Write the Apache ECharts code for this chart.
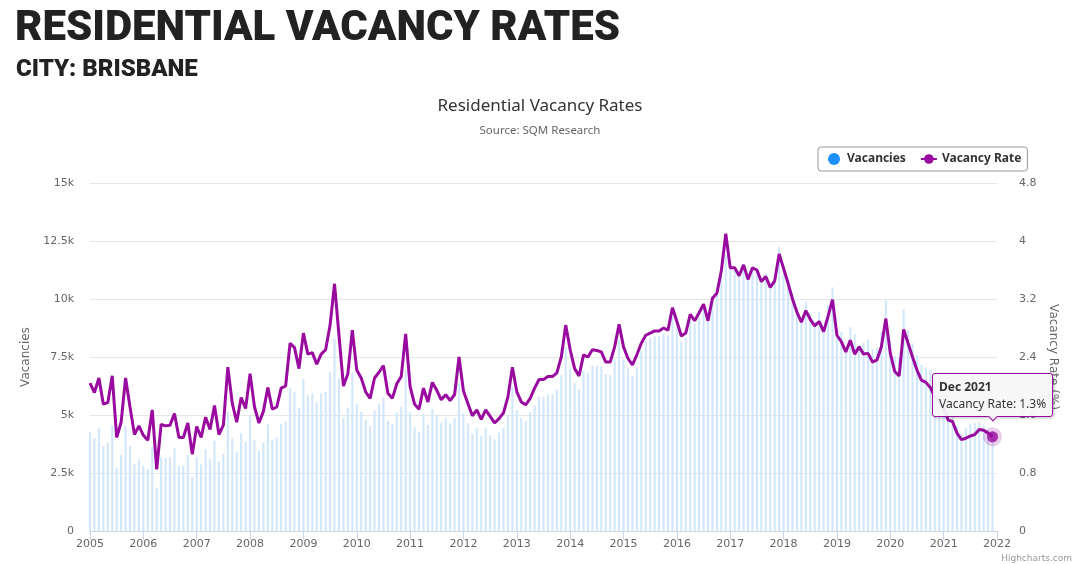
<!DOCTYPE html>
<html>
<head>
<meta charset="utf-8">
<script src="https://cdn.jsdelivr.net/npm/echarts@6/dist/echarts.min.js"></script>
<style>
html,body{margin:0;padding:0;background:#fff;}
#chart{width:1080px;height:564px;}
</style>
</head>
<body>
<div id="chart"></div>
<script>
// ---- Data (monthly, Jan 2005 - Dec 2021) ----
const startYear = 2005;
const monthNames = ['Jan','Feb','Mar','Apr','May','Jun','Jul','Aug','Sep','Oct','Nov','Dec'];
const xTickYears = [2005,2006,2007,2008,2009,2010,2011,2012,2013,2014,2015,2016,2017,2018,2019,2020,2021,2022];

const vacancies = [
  4280,4000,4430,3660,3810,4540,2700,3280,4530,3660,2870,3090,
  2810,2670,3610,1840,3180,3140,3180,3560,2810,2810,3280,2310,
  3180,2870,3520,3090,3880,2990,3320,5140,4000,3390,4210,3850,
  5000,3920,3450,3810,4610,3920,4040,4610,4710,6150,6000,5310,
  6550,5860,5930,5530,5930,6000,6840,8290,6580,4870,5320,6830,
  5460,5150,4780,4540,5200,5460,5750,4750,4600,5110,5360,6940,
  5110,4470,4250,5040,4570,5240,5000,4670,4860,4640,4860,6370,
  5070,4640,4180,4430,4100,4430,4140,3950,4240,4430,5000,6220,
  5210,4860,4740,5120,5410,5790,5790,5890,5890,6100,6720,7940,
  7050,6390,6100,6910,6800,7120,7120,7080,6770,6720,7410,8230,
  7430,7010,6680,7080,7760,8190,8330,8400,8400,8510,8440,9240,
  8750,8160,8330,9120,8940,9200,9700,9090,10030,10240,10960,11900,
  11390,11360,11030,11460,10890,11360,11280,10820,11100,10560,10820,12250,
  11460,10820,10240,9600,9120,9880,9410,9020,9440,8740,9740,10500,
  8590,8590,7870,8780,8490,8020,8120,8260,7830,7870,8590,9930,
  8230,7540,7480,9550,8660,8090,7590,7150,7050,6940,6650,6450,
  6080,5500,4930,4500,4210,4430,4610,4660,4700,4550,4350,4300
];

const vacancyRate = [
  2.04,1.91,2.11,1.75,1.77,2.14,1.29,1.50,2.11,1.71,1.33,1.45,
  1.32,1.25,1.67,0.85,1.47,1.45,1.46,1.62,1.29,1.29,1.49,1.06,
  1.44,1.29,1.57,1.40,1.73,1.33,1.46,2.26,1.76,1.50,1.84,1.69,
  2.17,1.71,1.49,1.65,1.98,1.68,1.71,1.97,2.00,2.59,2.53,2.24,
  2.73,2.44,2.46,2.30,2.44,2.50,2.84,3.41,2.70,2.00,2.17,2.77,
  2.22,2.11,1.92,1.83,2.11,2.19,2.28,1.90,1.83,2.03,2.13,2.72,
  1.99,1.75,1.68,1.97,1.78,2.05,1.94,1.81,1.88,1.80,1.88,2.40,
  1.93,1.76,1.59,1.67,1.54,1.67,1.58,1.49,1.55,1.63,1.85,2.26,
  1.92,1.78,1.74,1.83,1.97,2.09,2.09,2.13,2.13,2.18,2.40,2.84,
  2.50,2.24,2.14,2.43,2.40,2.50,2.49,2.47,2.33,2.33,2.54,2.85,
  2.54,2.38,2.29,2.43,2.59,2.70,2.73,2.76,2.76,2.80,2.77,3.08,
  2.89,2.69,2.73,2.99,2.90,3.01,3.13,2.90,3.21,3.28,3.59,4.10,
  3.63,3.63,3.52,3.67,3.47,3.63,3.60,3.44,3.51,3.36,3.45,3.82,
  3.62,3.42,3.20,3.02,2.88,3.04,2.92,2.83,2.89,2.75,2.96,3.19,
  2.70,2.61,2.47,2.63,2.44,2.54,2.44,2.45,2.33,2.36,2.54,2.93,
  2.45,2.20,2.14,2.78,2.59,2.40,2.22,2.08,2.05,1.98,1.85,1.78,
  1.69,1.53,1.51,1.35,1.26,1.28,1.31,1.33,1.40,1.39,1.35,1.3
];

const leftTicks = ['0','2.5k','5k','7.5k','10k','12.5k','15k'];
const rightTicks = ['0','0.8','1.6','2.4','3.2','4','4.8'];

// ---- Build ----
const monthLabels = vacancies.map((_, i) => monthNames[i % 12] + ' ' + (startYear + Math.floor(i / 12)));
const xPos = vacancies.map((_, i) => startYear + i / 12);
const barData = vacancies.map((v, i) => [xPos[i], v]);
const lineData = vacancyRate.map((v, i) => [xPos[i], v]);
const last = vacancyRate.length - 1;

const purple = '#990a9f';
const chart = echarts.init(document.getElementById('chart'), null, {renderer: 'canvas'});

chart.setOption({
  animation: false,
  backgroundColor: '#fff',
  title: [
    {text: 'RESIDENTIAL VACANCY RATES', left: 10, top: 3,
     textStyle: {fontFamily: 'Roboto', fontWeight: 900, fontSize: 42, color: '#222'}},
    {text: 'CITY: BRISBANE', left: 11, top: 53,
     textStyle: {fontFamily: 'Roboto', fontWeight: 900, fontSize: 24, color: '#222'}},
    {text: 'Residential Vacancy Rates', left: 'center', top: 93,
     textStyle: {fontFamily: 'Noto Sans', fontWeight: 'normal', fontSize: 17, color: '#333'}},
    {text: 'Source: SQM Research', left: 'center', top: 120,
     textStyle: {fontFamily: 'Noto Sans', fontWeight: 'normal', fontSize: 11.5, color: '#666'}}
  ],
  legend: {
    left: 818, top: 147,
    padding: [6, 6, 6, 10],
    itemGap: 14,
    itemWidth: 16, itemHeight: 12,
    borderColor: '#999', borderWidth: 1, borderRadius: 3,
    textStyle: {fontFamily: 'Noto Sans', fontWeight: 'bold', fontSize: 12, color: '#333'},
    data: [
      {name: 'Vacancies', icon: 'circle', itemStyle: {color: '#1e90ff', opacity: 1}},
      {name: 'Vacancy Rate'}
    ]
  },
  grid: {left: 90, right: 83, top: 183, bottom: 33, containLabel: false},
  tooltip: {
    trigger: 'item',
    triggerOn: 'none',
    alwaysShowContent: true,
    position: 'top',
    transitionDuration: 0,
    backgroundColor: 'rgba(247,247,247,0.95)',
    borderColor: purple,
    borderWidth: 1,
    padding: [4, 6],
    extraCssText: 'border-radius:3px;box-shadow:1px 1px 3px rgba(0,0,0,0.25);',
    textStyle: {fontFamily: 'Noto Sans', fontSize: 12, color: '#333'},
    formatter: function (p) {
      const i = last;
      return '<div style="line-height:17px"><b>' + monthLabels[i] + '</b><br/>Vacancy Rate: ' + vacancyRate[i] + '%</div>';
    }
  },
  xAxis: {
    type: 'value', min: 2005, max: 2022, interval: 1,
    axisLine: {show: true, lineStyle: {color: '#ccd6eb'}},
    axisTick: {show: true, length: 9, lineStyle: {color: '#ccd6eb'}},
    splitLine: {show: false},
    axisLabel: {color: '#666', fontSize: 11, fontFamily: 'DejaVu Sans', margin: 8,
      formatter: v => String(xTickYears[Math.round(v - 2005)])}
  },
  yAxis: [
    {
      type: 'value', min: 0, max: 15000, interval: 2500, position: 'left',
      name: 'Vacancies', nameLocation: 'middle', nameGap: 52, nameRotate: 90,
      nameTextStyle: {color: '#666', fontSize: 12, fontFamily: 'DejaVu Sans'},
      axisLine: {show: false}, axisTick: {show: false},
      splitLine: {lineStyle: {color: '#e6e6e6'}},
      axisLabel: {color: '#666', fontSize: 11, fontFamily: 'DejaVu Sans', margin: 16,
        formatter: v => leftTicks[Math.round(v / 2500)]}
    },
    {
      type: 'value', min: 0, max: 4.8, interval: 0.8, position: 'right',
      name: 'Vacancy Rate (%)', nameLocation: 'middle', nameGap: 50, nameRotate: -90,
      nameTextStyle: {color: '#666', fontSize: 12, fontFamily: 'DejaVu Sans'},
      axisLine: {show: false}, axisTick: {show: false},
      splitLine: {show: false},
      axisLabel: {color: '#666', fontSize: 11, fontFamily: 'DejaVu Sans', margin: 22,
        formatter: v => rightTicks[Math.round(v / 0.8)]}
    }
  ],
  series: [
    {
      name: 'Vacancies', type: 'bar', yAxisIndex: 0,
      data: barData, barWidth: 2,
      itemStyle: {color: '#cfe6fc'},
      silent: true, z: 1
    },
    {
      name: 'Vacancy Rate', type: 'line', yAxisIndex: 1,
      data: lineData, symbol: 'circle', symbolSize: 8, showSymbol: false,
      itemStyle: {color: purple},
      lineStyle: {color: purple, width: 3},
      silent: true, z: 3
    },
    {
      name: 'Vacancy Rate', type: 'scatter', yAxisIndex: 1,
      data: [lineData[last]],
      symbol: 'circle', symbolSize: 11,
      itemStyle: {color: purple, borderColor: 'rgba(153,10,159,0.25)', borderWidth: 8},
      z: 4
    }
  ],
  graphic: [
    {type: 'text', right: 8, bottom: 1,
     style: {text: 'Highcharts.com', fill: '#999', fontSize: 9, fontFamily: 'DejaVu Sans'}}
  ]
});

chart.dispatchAction({type: 'showTip', seriesIndex: 2, dataIndex: 0});
</script>
</body>
</html>
